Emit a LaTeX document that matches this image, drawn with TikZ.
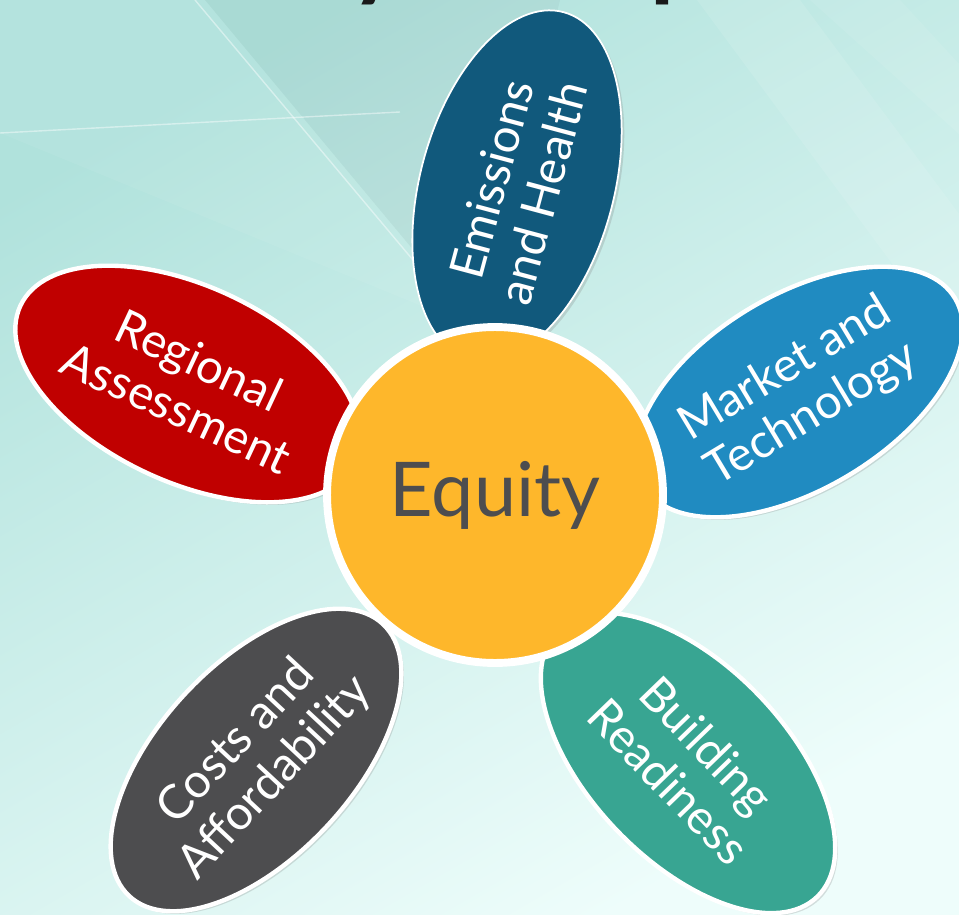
\documentclass[tikz,border=0pt]{standalone}
\usepackage{fontspec}
\setmainfont{Lato}
\newfontfamily\titlefont{Carlito}
\usetikzlibrary{shapes.geometric, shadows}

\definecolor{bgdark}{RGB}{176,226,220}
\definecolor{bglight}{RGB}{238,253,251}
\definecolor{emiscol}{RGB}{17,89,124}
\definecolor{marketcol}{RGB}{32,139,193}
\definecolor{buildcol}{RGB}{56,165,146}
\definecolor{costcol}{RGB}{77,77,79}
\definecolor{regioncol}{RGB}{192,0,0}
\definecolor{equitycol}{RGB}{254,183,43}
\definecolor{equitytext}{RGB}{77,77,79}
\definecolor{titlecol}{RGB}{26,26,26}

\tikzset{
    petal/.style={ellipse, draw=white, line width=2.5pt, text=white, align=center,
        inner sep=0pt, font=\fontsize{27}{30}\selectfont,
        drop shadow={shadow xshift=1.5pt, shadow yshift=-1.5pt, opacity=0.25}},
    hub/.style={circle, draw=white, line width=4.5pt, fill=equitycol, text=equitytext,
        inner sep=0pt, minimum size=6.72cm, font=\fontsize{43}{47}\selectfont,
        drop shadow={shadow xshift=1.5pt, shadow yshift=-1.5pt, opacity=0.25}},
    titlepart/.style={anchor=base west, inner sep=0pt, text=titlecol,
        font=\titlefont\bfseries\fontsize{56}{56}\selectfont},
    streak/.style={white, opacity=0.45, line width=0.8pt}
}

\begin{document}
\begin{tikzpicture}[x=0.02cm, y=0.02cm]
    \useasboundingbox (0,0) rectangle (959,914);
    \clip (0,0) rectangle (959,914);
    \shade[top color=bgdark, bottom color=bglight, shading angle=30] (0,0) rectangle (959,914);
    \fill[black, opacity=0.035] (205,914) -- (560,914) -- (480,584) -- cycle;
    \fill[white, opacity=0.10] (697,914) -- (800,914) -- (959,700) -- (959,560) -- cycle;
    \fill[white, opacity=0.08] (810,914) -- (900,914) -- (959,850) -- (959,780) -- cycle;
    \fill[white, opacity=0.06] (0,914) -- (205,914) -- (480,584) -- (0,781) -- cycle;
    \draw[streak] (195,914) -- (480,574);
    \draw[streak] (0,781) -- (400,802);

    \node[titlepart] (ttly) at (352,924) {y};
    \node[titlepart] (ttlp) at (650,924) {p};

    \node[petal, fill=emiscol, line width=1pt, minimum width=7.2cm, minimum height=3.88cm,
        rotate=75] (emis) at (517,728) {Emissions\\and Health};
    \node[petal, fill=marketcol, minimum width=7.28cm, minimum height=3.88cm,
        rotate=31] (market) at (799,522) {Market and\\Technology};
    \node[petal, fill=buildcol, minimum width=7.44cm, minimum height=3.92cm,
        rotate=-46] (build) at (688,151) {Building\\Readiness};
    \node[petal, fill=costcol, minimum width=7.44cm, minimum height=3.88cm,
        rotate=47] (cost) at (256,154) {Costs and\\Affordability};
    \node[petal, fill=regioncol, minimum width=7.4cm, minimum height=3.92cm,
        rotate=-25] (region) at (188,530) {Regional\\Assessment};

    \node[hub] (equity) at (495,419) {Equity};
\end{tikzpicture}
\end{document}
